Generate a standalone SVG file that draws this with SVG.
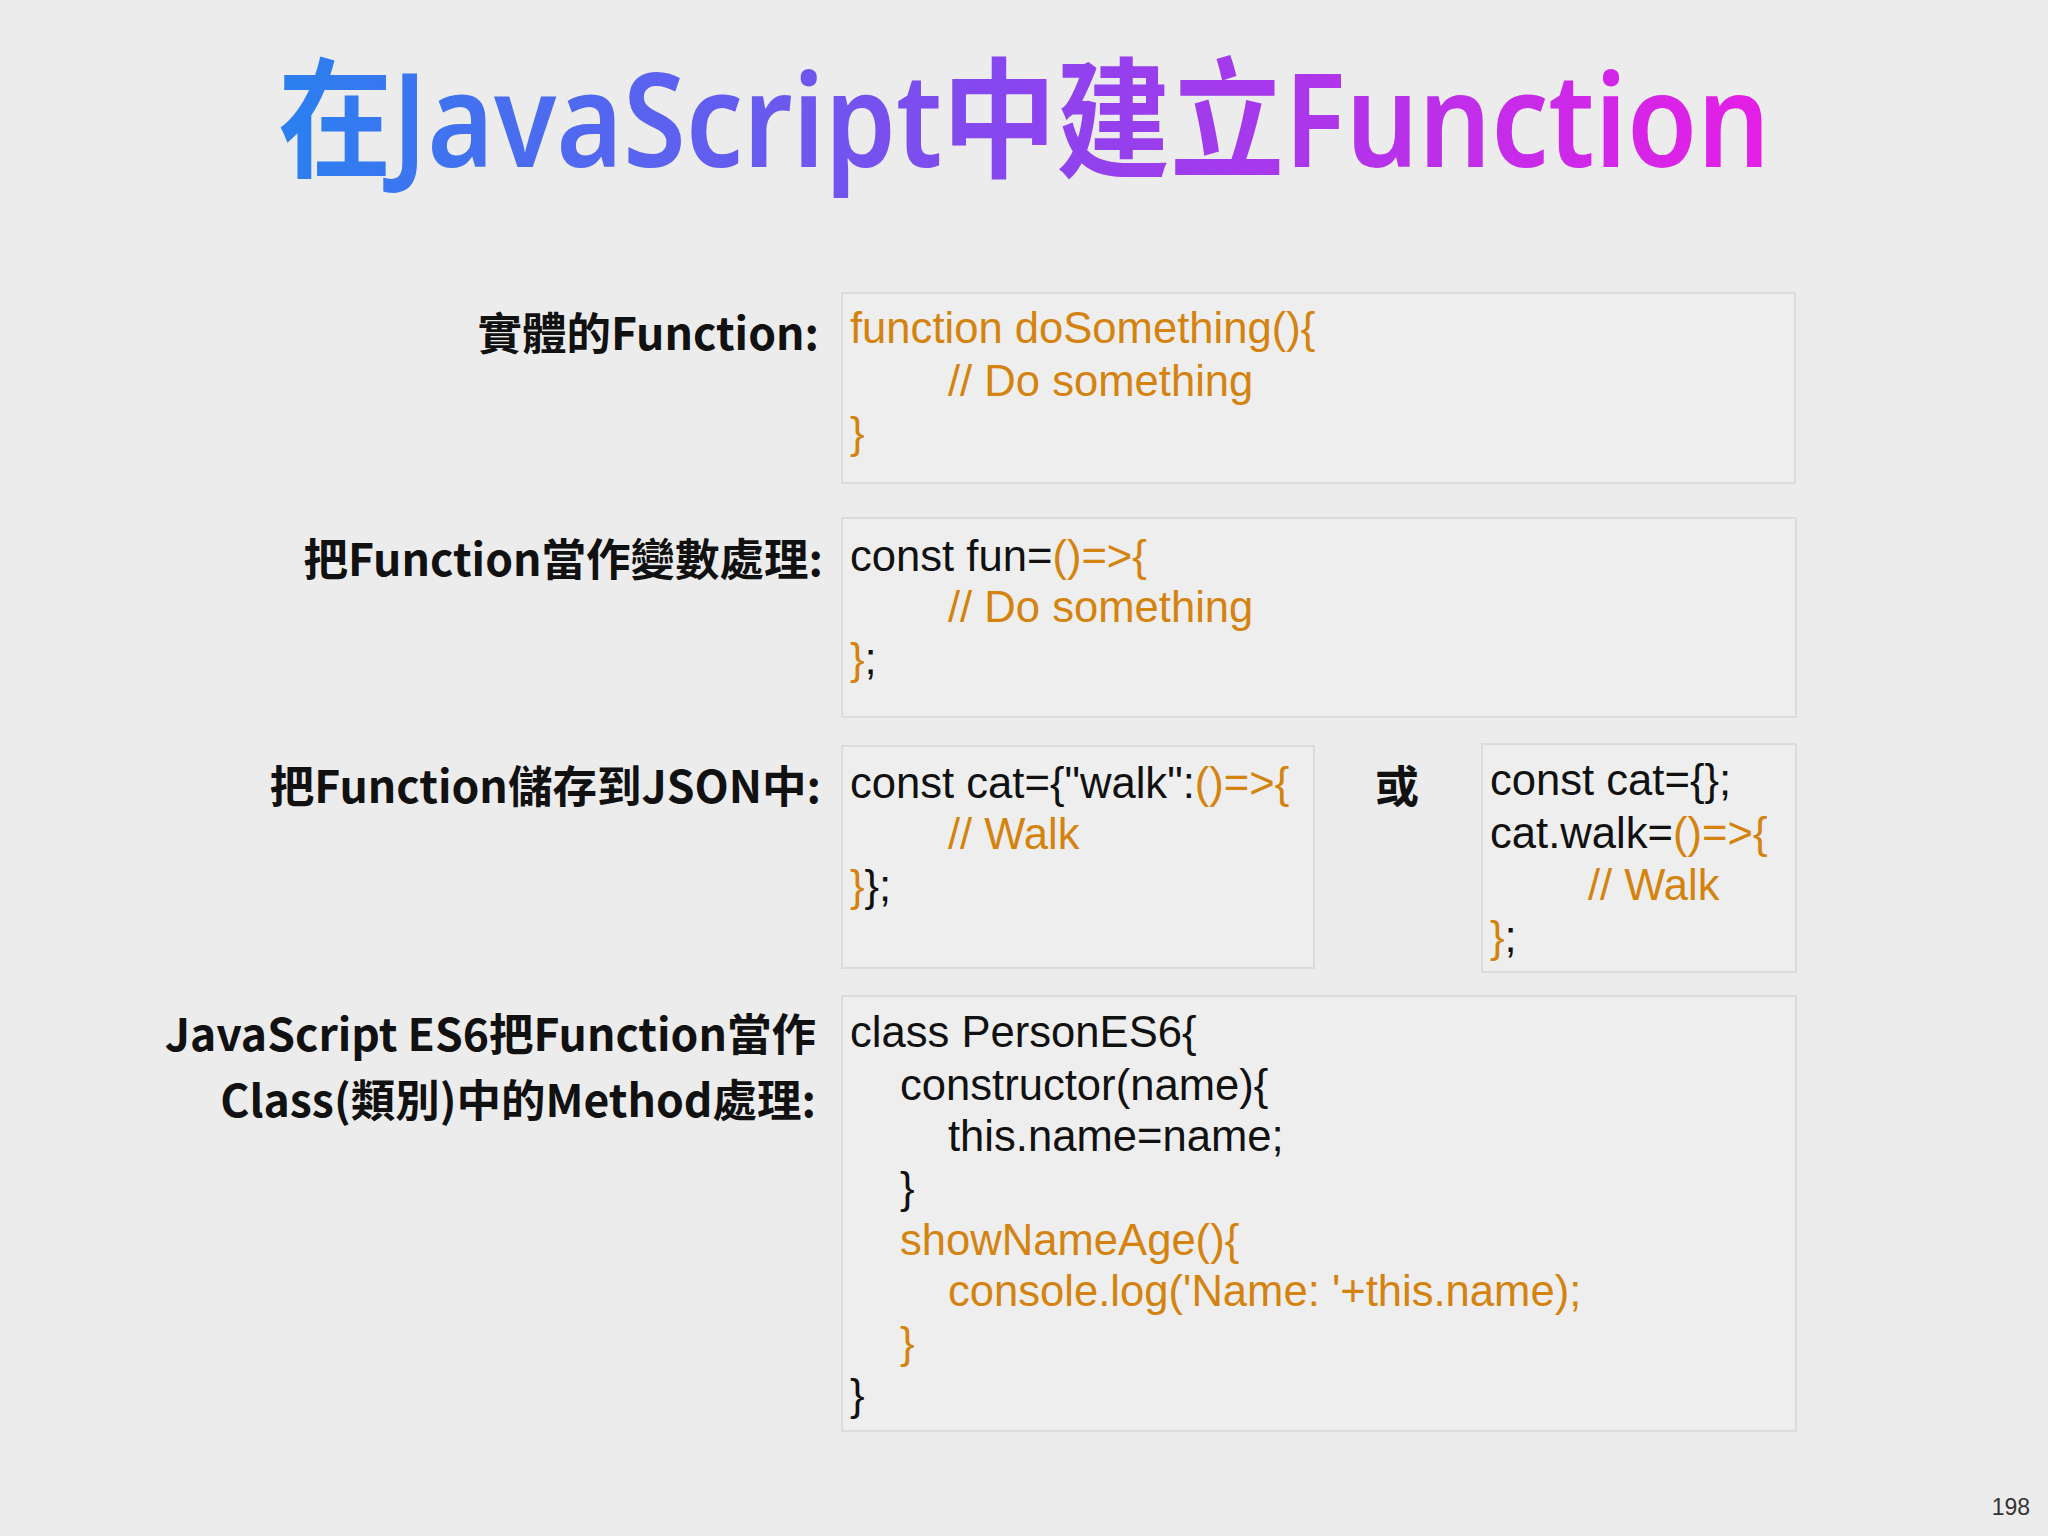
<svg xmlns="http://www.w3.org/2000/svg" width="2048" height="1536" viewBox="0 0 2048 1536">
<defs>
<linearGradient id="tg" x1="278" y1="0" x2="1770" y2="0" gradientUnits="userSpaceOnUse">
<stop offset="0" stop-color="#2a80f0"/><stop offset="0.5" stop-color="#8a45ee"/><stop offset="1" stop-color="#e61ee6"/>
</linearGradient>
<style>
.box{fill:#eeeeee;stroke:#d6d6d6;stroke-width:1.5}
.code{font-family:"Liberation Sans","Noto Sans",sans-serif;font-size:43.6px;fill:#111}
.o{fill:#d4830f}
.lbl{font-family:"Noto Sans CJK TC","Noto Sans",sans-serif;font-weight:bold;font-size:44.5px;fill:#111;text-anchor:end}
</style>
</defs>
<rect width="2048" height="1536" fill="#ececec"/>
<text x="1024" y="167" text-anchor="middle" font-family="'Noto Sans','Noto Sans CJK TC',sans-serif" font-size="130" font-weight="600" fill="url(#tg)" textLength="1492" lengthAdjust="spacingAndGlyphs">在JavaScript中建立Function</text>

<g id="n1">
<text class="lbl" x="819" y="350">實體的Function:</text>
<rect class="box" x="842" y="293" width="953" height="190"/>
<text class="code o" x="850" y="343">function doSomething(){</text>
<text class="code o" x="948" y="396">// Do something</text>
<text class="code o" x="850" y="448">}</text>
</g>
<g id="n2">
<text class="lbl" x="823" y="576">把Function當作變數處理:</text>
<rect class="box" x="842" y="518" width="954" height="199"/>
<text class="code" x="850" y="571">const fun=<tspan class="o">()=&gt;{</tspan></text>
<text class="code o" x="948" y="622">// Do something</text>
<text class="code" x="850" y="674"><tspan class="o">}</tspan>;</text>
</g>
<g id="n3">
<text class="lbl" x="821" y="803">把Function儲存到JSON中:</text>
<rect class="box" x="842" y="746" width="472" height="222"/>
<text class="code" x="850" y="798">const cat={"walk":<tspan class="o">()=&gt;{</tspan></text>
<text class="code o" x="948" y="849">// Walk</text>
<text class="code" x="850" y="901"><tspan class="o">}</tspan>};</text>
</g>
<g id="or">
<text x="1397" y="803" text-anchor="middle" font-family="'Noto Sans CJK TC',sans-serif" font-weight="bold" font-size="44" fill="#111">或</text>
</g>
<g id="n4">
<rect class="box" x="1482" y="744" width="314" height="228"/>
<text class="code" x="1490" y="795">const cat={};</text>
<text class="code" x="1490" y="848">cat.walk=<tspan class="o">()=&gt;{</tspan></text>
<text class="code o" x="1588" y="900">// Walk</text>
<text class="code" x="1490" y="952"><tspan class="o">}</tspan>;</text>
</g>
<g id="n5">
<text class="lbl" x="816" y="1051">JavaScript ES6把Function當作</text>
<text class="lbl" x="816" y="1117">Class(類別)中的Method處理:</text>
<rect class="box" x="842" y="996" width="954" height="435"/>
<text class="code" x="850" y="1047">class PersonES6{</text>
<text class="code" x="900" y="1100">constructor(name){</text>
<text class="code" x="948" y="1151">this.name=name;</text>
<text class="code" x="900" y="1203">}</text>
<text class="code o" x="900" y="1255">showNameAge(){</text>
<text class="code o" x="948" y="1306">console.log('Name: '+this.name);</text>
<text class="code o" x="900" y="1358">}</text>
<text class="code" x="850" y="1410">}</text>
</g>
<g id="connectors"></g>
<text x="2030" y="1515" text-anchor="end" font-family="'Liberation Sans',sans-serif" font-size="23" fill="#333">198</text>
</svg>
